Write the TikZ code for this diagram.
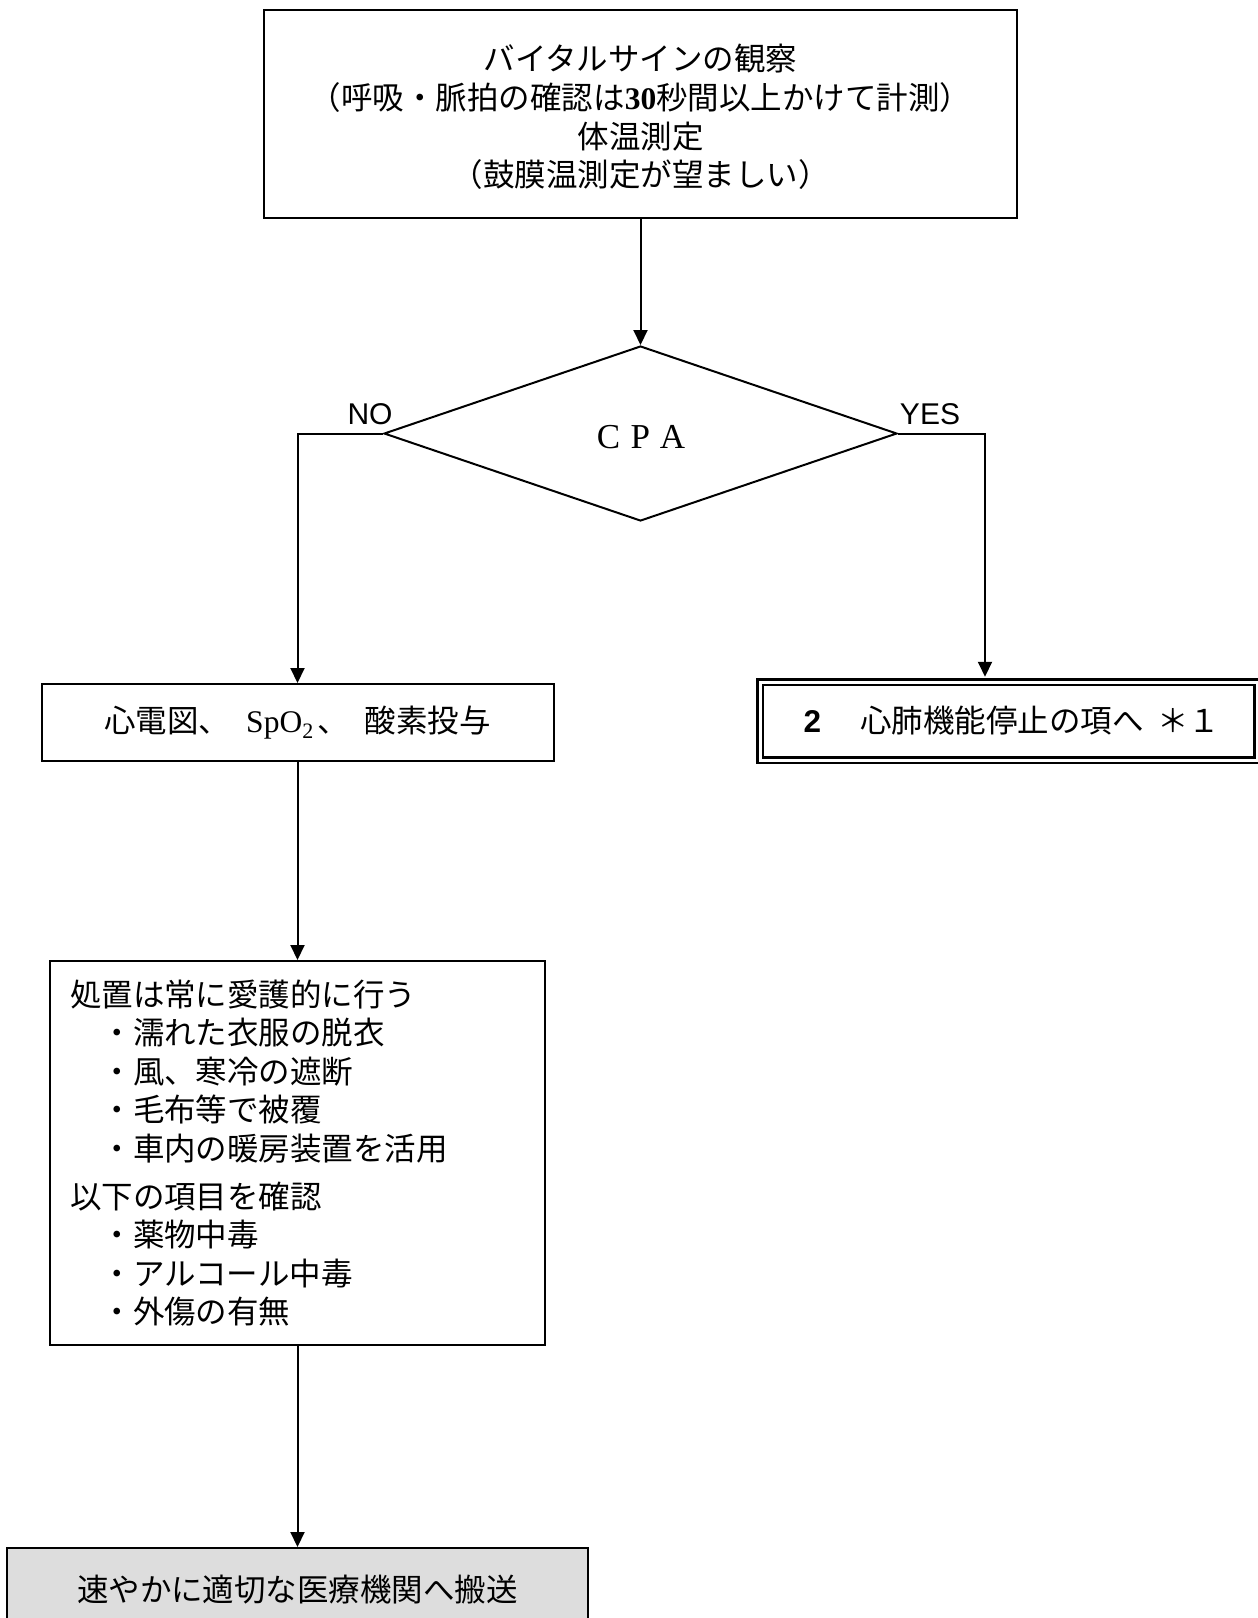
\documentclass[tikz,border=0pt]{standalone}
\usepackage{fontspec}
\newfontfamily\jp{Noto Sans CJK JP}
\newfontfamily\serif{Liberation Serif}
\newfontfamily\sans{Liberation Sans}
\usetikzlibrary{arrows.meta,shapes.geometric,positioning}
\definecolor{boxgrey}{RGB}{221,221,221}

\begin{document}
\begin{tikzpicture}[x=1pt,y=-1pt,
    box/.style={draw,line width=2pt,inner sep=0pt,align=center,
      font=\jp\fontsize{31.5}{38.6}\selectfont},
    arr/.style={line width=2pt,-{Triangle[length=15pt,width=14pt]}},
    lab/.style={font=\sans\fontsize{30}{32}\selectfont}]
  \useasboundingbox (0,0) rectangle (1258,1618);
  % Vital signs
  \node[box,minimum width=753,minimum height=208] (vital) at (640.5,114)
    {\raisebox{-3pt}[\height][\depth]{\parbox{700pt}{\centering バイタルサインの観察\\（呼吸・脈拍の確認は{\serif\bfseries 30}秒間以上かけて計測）\\体温測定\\（鼓膜温測定が望ましい）}}};
  % Decision
  \node[draw,diamond,line width=2pt,inner sep=0pt,aspect=2.93,
    minimum width=513,minimum height=175,
    font=\serif\fontsize{35}{35}\selectfont] (cpa) at (640.5,433.5)
    {\raisebox{-4pt}[\height][\depth]{\makebox[32pt]{C}\makebox[32pt]{P}\makebox[32pt]{A}}};
  \node[lab] (no) at (370,414) {NO};
  \node[lab] (yes) at (930,414) {YES};
  % Branches
  \node[box,minimum width=512,minimum height=77] (ecg) at (297.5,722.5)
    {心電図、\hspace{16pt}{\serif SpO\raisebox{-6pt}{\fontsize{22}{22}\selectfont 2}}\hspace{4pt}、\hspace{16pt}酸素投与};
  \node[box,double,double distance=3pt,line width=2.5pt,
    minimum width=497,minimum height=78] (arrest) at (1008.5,721)
    {\makebox[32pt]{\sans\bfseries 2}　心肺機能停止の項へ\hspace{14pt}＊１};
  \coordinate (yesdrop) at (985,433.5);
  % Care
  \node[box,minimum width=495,minimum height=384,text width=455,align=left] (care) at (297.5,1153)
    {処置は常に愛護的に行う\\
     　・濡れた衣服の脱衣\\
     　・風、寒冷の遮断\\
     　・毛布等で被覆\\
     　・車内の暖房装置を活用\\[9pt]
     以下の項目を確認\\
     　・薬物中毒\\
     　・アルコール中毒\\
     　・外傷の有無};
  % Transport
  \node[box,fill=boxgrey,minimum width=581,text height=53pt,text depth=40pt,anchor=north] (transport) at (297.5,1547)
    {速やかに適切な医療機関へ搬送};
  % Connectors
  \draw[arr] (vital.south) -- (cpa.north);
  \draw[arr] (cpa.west) -| (ecg.north);
  \draw[arr,shorten >=4pt] (cpa.east) -- (yesdrop) -- (yesdrop |- arrest.north);
  \draw[arr] (ecg.south) -- (care.north);
  \draw[arr] (care.south) -- (transport.north);
\end{tikzpicture}
\end{document}
